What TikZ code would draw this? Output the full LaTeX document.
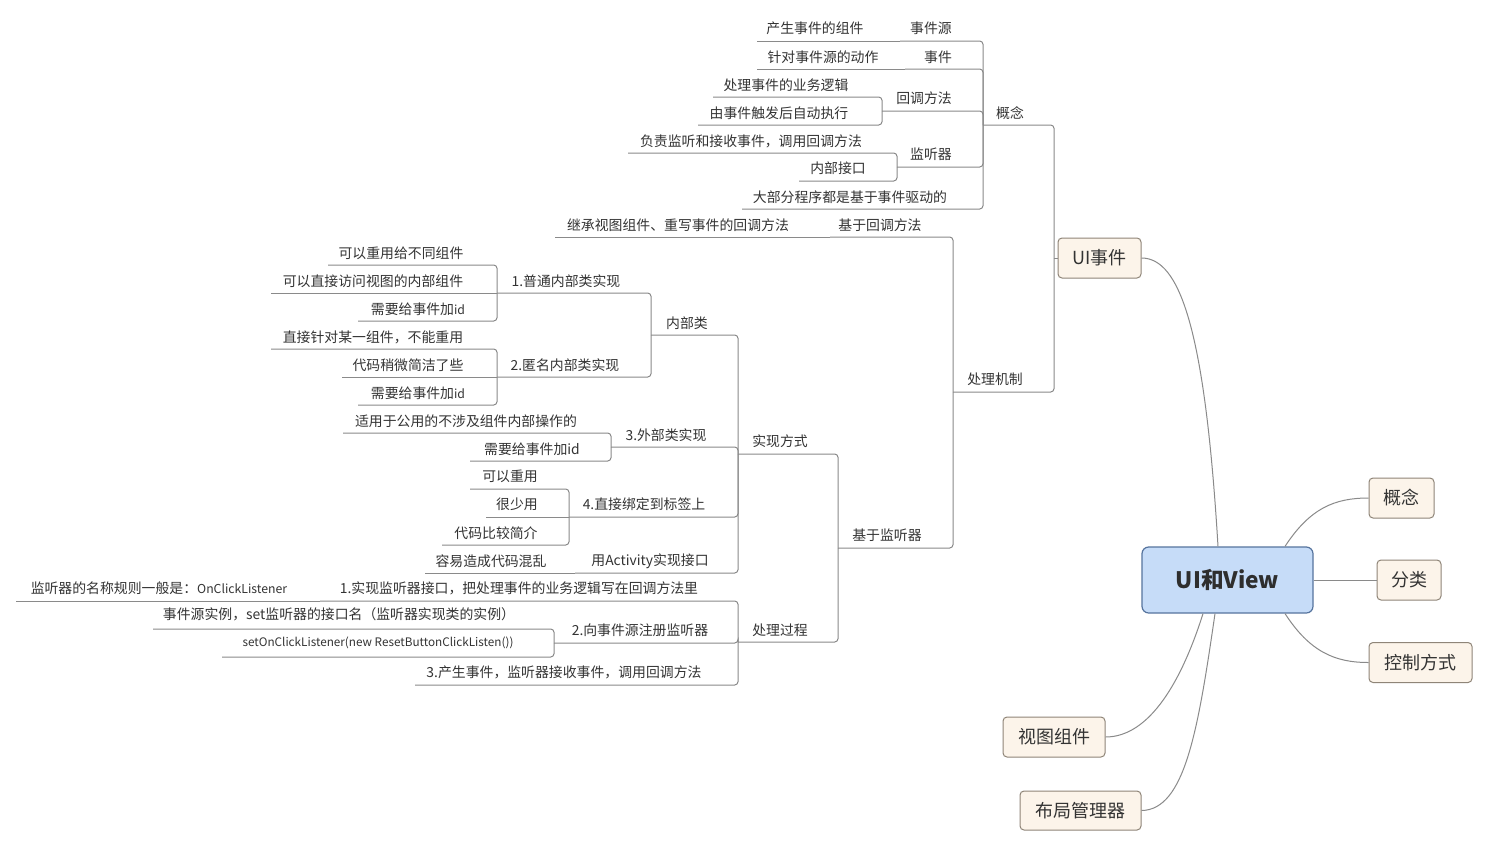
\documentclass[tikz,border=0pt]{standalone}
\usepackage{fontspec}
\setmainfont{Noto Sans CJK SC}
\usetikzlibrary{calc}
\definecolor{txt}{HTML}{333333}
\definecolor{ln}{HTML}{8A8A8A}
\definecolor{boxf}{HTML}{FCF4EA}
\definecolor{boxd}{HTML}{8F8578}
\definecolor{rootf}{HTML}{C6DCF8}
\definecolor{rootd}{HTML}{56749E}
\newcommand{\smr}[1]{{\fontsize{9.2}{10}\selectfont #1}}
\begin{document}
\begin{tikzpicture}[x=0.75pt,y=-0.75pt,
  lbl/.style={text=txt,inner sep=0pt,font=\fontsize{10.4}{12}\selectfont},
  conn/.style={draw=ln,line width=0.75pt,rounded corners=2.5pt},
  curve/.style={draw=ln,line width=0.75pt},
  topic/.style={draw=boxd,fill=boxf,rounded corners=3pt,line width=0.75pt,text=txt,inner sep=0pt,font=\fontsize{13.5}{16}\selectfont},
  central/.style={draw=rootd,fill=rootf,rounded corners=5pt,line width=0.9pt,text=txt!90!black,inner sep=0pt,font=\fontsize{17}{20}\selectfont\bfseries}]
\path[use as bounding box] (0,0) rectangle (1499,847);
\fill[white] (0,0) rectangle (1499,847);

% ---------- boxes ----------
\node[central,minimum width=128.25pt,minimum height=49.5pt] (root) at (1227.5,580) {UI和View};
\node[topic,minimum width=62.25pt,minimum height=30pt] (ui) at (1099.5,258) {UI事件};
\node[topic,minimum width=48.75pt,minimum height=30pt] (gnb) at (1401.5,498) {概念};
\node[topic,minimum width=48pt,minimum height=30pt] (fl) at (1409,580) {分类};
\node[topic,minimum width=77.25pt,minimum height=30pt] (kz) at (1420.5,662.5) {控制方式};
\node[topic,minimum width=76.5pt,minimum height=30pt] (st) at (1054,737) {视图组件};
\node[topic,minimum width=90.75pt,minimum height=29.25pt] (bj) at (1080.5,810.5) {布局管理器};

% ---------- curves from root ----------
\draw[curve] ($(root.north)+(-9.5,0)$) .. controls (1205,330) and (1180,258) .. (ui.east);
\draw[curve] ($(root.north)+(57.5,0)$) .. controls (1310,508) and (1335,498) .. (gnb.west);
\draw[curve] (root.east) -- (fl.west);
\draw[curve] ($(root.south)+(57.5,0)$) .. controls (1310,652) and (1335,662.5) .. (kz.west);
\draw[curve] ($(root.south)+(-24.5,0)$) .. controls (1182,680) and (1150,737) .. (st.east);
\draw[curve] ($(root.south)+(-12.5,0)$) .. controls (1198,730) and (1185,810) .. (bj.east);

% ---------- underline coordinates (left ends) ----------
\coordinate (uiL) at (1054,258);
\coordinate (gn) at (983,125);
\coordinate (sjy) at (900,41);  \coordinate (sjy1) at (757,41);
\coordinate (sj) at (905,69);   \coordinate (sj1) at (757,69);
\coordinate (hd) at (882,111);  \coordinate (hd1) at (713,97);  \coordinate (hd2) at (698,125);
\coordinate (jt) at (897,167);  \coordinate (jt1) at (628,153); \coordinate (jt2) at (799,181);
\coordinate (db) at (742,209);
\coordinate (cl) at (953,392);
\coordinate (jh) at (830,237);  \coordinate (jh1) at (555,237);
\coordinate (jj) at (838,548);
\coordinate (sx) at (738,454);
\coordinate (nb) at (651,335);
\coordinate (p1) at (497,293);  \coordinate (p1a) at (328,265); \coordinate (p1b) at (271,293); \coordinate (p1c) at (358,321);
\coordinate (p2) at (497,377);  \coordinate (p2a) at (271,349); \coordinate (p2b) at (342,377); \coordinate (p2c) at (358,405);
\coordinate (p3) at (611,447);  \coordinate (p3a) at (343,433); \coordinate (p3b) at (470,461);
\coordinate (p4) at (569,517);  \coordinate (p4a) at (470,489); \coordinate (p4b) at (486,517); \coordinate (p4c) at (442,545);
\coordinate (p5) at (575,573);  \coordinate (p5a) at (425,573);
\coordinate (gc) at (738,642);
\coordinate (g1) at (320,601);  \coordinate (g1a) at (16,601);
\coordinate (g2) at (554,643);  \coordinate (g2a) at (153,629); \coordinate (g2b) at (222,657);
\coordinate (g3) at (415,685);

% ---------- connectors ----------
\draw[conn] (ui.west) -- (uiL);
\draw[conn] (gn) -| (uiL);
\draw[conn] (cl) -| (uiL);
\draw[conn] (sjy1) -- (sjy);
\draw[conn] (sjy) -| (gn);
\draw[conn] (sj1) -- (sj);
\draw[conn] (sj) -| (gn);
\draw[conn] (hd1) -| (hd);
\draw[conn] (hd2) -| (hd);
\draw[conn] (hd) -| (gn);
\draw[conn] (jt1) -| (jt);
\draw[conn] (jt2) -| (jt);
\draw[conn] (jt) -| (gn);
\draw[conn] (db) -| (gn);
\draw[conn] (jh1) -- (jh);
\draw[conn] (jh) -| (cl);
\draw[conn] (jj) -| (cl);
\draw[conn] (sx) -| (jj);
\draw[conn] (gc) -| (jj);
\draw[conn] (nb) -| (sx);
\draw[conn] (p1) -| (nb);
\draw[conn] (p2) -| (nb);
\draw[conn] (p1a) -| (p1);
\draw[conn] (p1b) -- (p1);
\draw[conn] (p1c) -| (p1);
\draw[conn] (p2a) -| (p2);
\draw[conn] (p2b) -- (p2);
\draw[conn] (p2c) -| (p2);
\draw[conn] (p3) -| (sx);
\draw[conn] (p3a) -| (p3);
\draw[conn] (p3b) -| (p3);
\draw[conn] (p4) -| (sx);
\draw[conn] (p4a) -| (p4);
\draw[conn] (p4b) -- (p4);
\draw[conn] (p4c) -| (p4);
\draw[conn] (p5) -| (sx);
\draw[conn] (p5a) -- (p5);
\draw[conn] (g1) -| (gc);
\draw[conn] (g1a) -- (g1);
\draw[conn] (g2) -| (gc);
\draw[conn] (g2a) -| (g2);
\draw[conn] (g2b) -| (g2);
\draw[conn] (g3) -| (gc);

% ---------- labels ----------
\node[lbl] (tgn) at (1010,113) {概念};
\node[lbl] (tsjy) at (931,28) {事件源};
\node[lbl] (tsjy1) at (815,28) {产生事件的组件};
\node[lbl] (tsj) at (938,57) {事件};
\node[lbl] (tsj1) at (823,57) {针对事件源的动作};
\node[lbl] (thd) at (924,98) {回调方法};
\node[lbl] (thd1) at (786,85) {处理事件的业务逻辑};
\node[lbl] (thd2) at (779,113) {由事件触发后自动执行};
\node[lbl] (tjt) at (931,154) {监听器};
\node[lbl] (tjt1) at (751,141) {负责监听和接收事件，调用回调方法};
\node[lbl] (tjt2) at (838,168) {内部接口};
\node[lbl] (tdb) at (850,197) {大部分程序都是基于事件驱动的};
\node[lbl] (tcl) at (995,379) {处理机制};
\node[lbl] (tjh) at (880,225) {基于回调方法};
\node[lbl] (tjh1) at (678,225) {继承视图组件、重写事件的回调方法};
\node[lbl] (tjj) at (887,535) {基于监听器};
\node[lbl] (tsx) at (780,441) {实现方式};
\node[lbl] (tnb) at (687,323) {内部类};
\node[lbl] (tp1) at (566,281) {1.普通内部类实现};
\node[lbl] (tp1a) at (401,253) {可以重用给不同组件};
\node[lbl] (tp1b) at (373,281) {可以直接访问视图的内部组件};
\node[lbl] (tp1c) at (418,309) {需要给事件加\smr{id}};
\node[lbl] (tp2) at (565,365) {2.匿名内部类实现};
\node[lbl] (tp2a) at (373,337) {直接针对某一组件，不能重用};
\node[lbl] (tp2b) at (408,365) {代码稍微简洁了些};
\node[lbl] (tp2c) at (418,393) {需要给事件加\smr{id}};
\node[lbl] (tp3) at (666,435) {3.外部类实现};
\node[lbl] (tp3a) at (466,421) {适用于公用的不涉及组件内部操作的};
\node[lbl] (tp3b) at (532,449) {需要给事件加id};
\node[lbl] (tp4) at (644,504) {4.直接绑定到标签上};
\node[lbl] (tp4a) at (510,476) {可以重用};
\node[lbl] (tp4b) at (517,504) {很少用};
\node[lbl] (tp4c) at (496,533) {代码比较简介};
\node[lbl] (tp5) at (650,561) {用Activity实现接口};
\node[lbl] (tp5a) at (491,561) {容易造成代码混乱};
\node[lbl] (tgc) at (780,630) {处理过程};
\node[lbl] (tg1) at (519,588) {1.实现监听器接口，把处理事件的业务逻辑写在回调方法里};
\node[lbl] (tg1a) at (159,588) {监听器的名称规则一般是：\smr{OnClickListener}};
\node[lbl] (tg2) at (640,630) {2.向事件源注册监听器};
\node[lbl] (tg2a) at (339,614) {事件源实例，set监听器的接口名（监听器实现类的实例）};
\node[lbl,font=\fontsize{8.8}{10}\selectfont] (tg2b) at (378,643) {setOnClickListener(new ResetButtonClickListen())};
\node[lbl] (tg3) at (564,672) {3.产生事件，监听器接收事件，调用回调方法};
\end{tikzpicture}
\end{document}
